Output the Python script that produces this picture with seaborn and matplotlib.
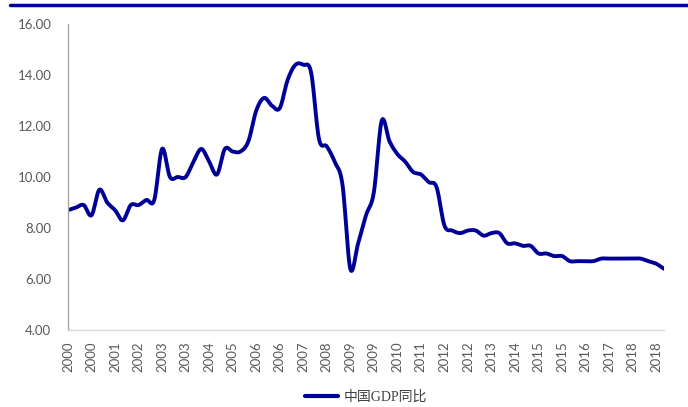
"""
中国GDP同比 (季度累计) 折线图
"""

import numpy as np
import pandas as pd
import matplotlib
matplotlib.use("Agg")
import matplotlib.pyplot as plt
import seaborn as sns
from matplotlib.lines import Line2D
from matplotlib.font_manager import FontProperties

# datos
periods = pd.period_range("2000Q1", "2019Q1", freq="Q")
gdp_yoy = [
    8.7, 8.8, 8.9, 8.5,      # 2000
    9.5, 9.0, 8.7, 8.3,      # 2001
    8.9, 8.9, 9.1, 9.1,      # 2002
    11.1, 10.0, 10.0, 10.0,  # 2003
    10.6, 11.1, 10.6, 10.1,  # 2004
    11.1, 11.0, 11.0, 11.4,  # 2005
    12.6, 13.1, 12.8, 12.7,  # 2006
    13.8, 14.4, 14.4, 14.1,  # 2007
    11.5, 11.2, 10.6, 9.7,   # 2008
    6.4, 7.4, 8.5, 9.4,      # 2009
    12.2, 11.4, 10.9, 10.6,  # 2010
    10.2, 10.1, 9.8, 9.6,    # 2011
    8.1, 7.9, 7.8, 7.9,      # 2012
    7.9, 7.7, 7.8, 7.8,      # 2013
    7.4, 7.4, 7.3, 7.3,      # 2014
    7.0, 7.0, 6.9, 6.9,      # 2015
    6.7, 6.7, 6.7, 6.7,      # 2016
    6.8, 6.8, 6.8, 6.8,      # 2017
    6.8, 6.8, 6.7, 6.6,      # 2018
    6.4,                     # 2019
]
tick_step = 3
tick_labels = [str(p.year) for p in periods[::tick_step]]
y_ticks = [4, 6, 8, 10, 12, 14, 16]
series_name = "中国GDP同比"

line_color = "#000096"
text_color = "#595959"


def smooth_curve(x, y, n=20):
    """Curva suavizada tipo Excel (Bezier con puntos de control Catmull-Rom)"""
    x = np.asarray(x, dtype=float)
    y = np.asarray(y, dtype=float)
    px = np.concatenate([[x[0]], x, [x[-1]]])
    py = np.concatenate([[y[0]], y, [y[-1]]])
    t = np.linspace(0, 1, n, endpoint=False)
    xs, ys = [], []
    for i in range(1, len(px) - 2):
        c1x = px[i] + (px[i + 1] - px[i - 1]) / 6
        c1y = py[i] + (py[i + 1] - py[i - 1]) / 6
        c2x = px[i + 1] - (px[i + 2] - px[i]) / 6
        c2y = py[i + 1] - (py[i + 2] - py[i]) / 6
        b0, b1, b2, b3 = (1 - t) ** 3, 3 * (1 - t) ** 2 * t, 3 * (1 - t) * t ** 2, t ** 3
        xs.append(b0 * px[i] + b1 * c1x + b2 * c2x + b3 * px[i + 1])
        ys.append(b0 * py[i] + b1 * c1y + b2 * c2y + b3 * py[i + 1])
    xs.append([x[-1]])
    ys.append([y[-1]])
    return np.concatenate(xs), np.concatenate(ys)


sns.set_style("white")
plt.rcParams["font.family"] = ["Lato", "DejaVu Sans"]

df = pd.DataFrame({"idx": np.arange(len(periods)), "value": gdp_yoy})
sx, sy = smooth_curve(df["idx"], df["value"])
curve = pd.DataFrame({"x": sx, "y": sy})

fig = plt.figure(figsize=(6.88, 4.07), dpi=100)
ax = fig.add_axes([68 / 688, 1 - 330 / 407, (664 - 68) / 688, (330 - 24) / 407])

sns.lineplot(data=curve, x="x", y="y", sort=False, color=line_color,
             linewidth=2.8, ax=ax, legend=False)

ax.set_xlim(0, len(periods) - 1)
ax.set_ylim(4, 16)
ax.set_yticks(y_ticks)
ax.set_yticklabels([f"{v:.2f}" for v in y_ticks])
ax.set_xticks(df["idx"][::tick_step])
ax.set_xticklabels(tick_labels)
ax.set_xlabel("")
ax.set_ylabel("")

for side in ["top", "right"]:
    ax.spines[side].set_visible(False)
ax.spines["left"].set_color("#a6a6a6")
ax.spines["bottom"].set_color("#d9d9d9")
ax.spines["left"].set_linewidth(1)
ax.spines["bottom"].set_linewidth(1)

ax.tick_params(axis="y", direction="in", length=4, color="#a6a6a6",
               pad=12, labelcolor=text_color, labelsize=9.5)
ax.tick_params(axis="x", length=0, pad=8, labelcolor=text_color,
               labelsize=9.5, labelrotation=90)

# línea azul superior
fig.add_artist(Line2D([10 / 688, 1], [1 - 5 / 407, 1 - 5 / 407],
                      color="#000099", linewidth=2.5, transform=fig.transFigure))

legend_font = FontProperties(family=["Liberation Serif", "Noto Sans CJK SC"], size=10)
handles = [Line2D([], [], color=line_color, linewidth=3)]
leg = ax.legend(handles, [series_name], loc="center",
                bbox_to_anchor=(366 / 688, 1 - 397 / 407),
                bbox_transform=fig.transFigure, frameon=False, prop=legend_font,
                handlelength=2.4, handletextpad=0.4)
for txt in leg.get_texts():
    txt.set_color("#404040")

fig.savefig("out.png", dpi=100)
